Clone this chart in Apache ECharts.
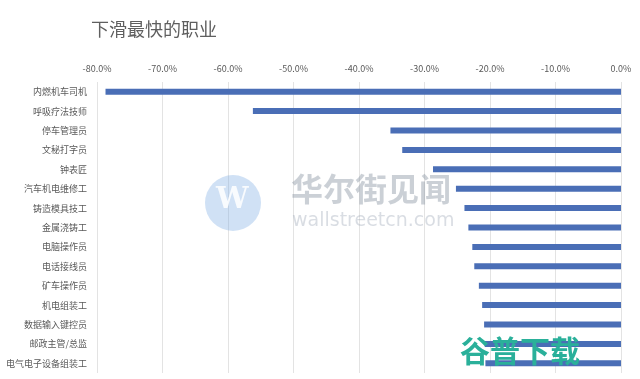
<!DOCTYPE html>
<html><head><meta charset="utf-8">
<script src="https://cdn.jsdelivr.net/npm/echarts@6/dist/echarts.min.js"></script>
<style>html,body{margin:0;padding:0;background:#fff}#c{width:640px;height:379px}</style>
</head><body><div id="c"></div>
<script>
const categories = ["内燃机车司机","呼吸疗法技师","停车管理员","文秘打字员","钟表匠","汽车机电维修工","铸造模具技工","金属浇铸工","电脑操作员","电话接线员","矿车操作员","机电组装工","数据输入键控员","邮政主管/总监","电气电子设备组装工"];
const values = [-0.787,-0.562,-0.352,-0.334,-0.287,-0.252,-0.239,-0.233,-0.227,-0.224,-0.217,-0.212,-0.209,-0.208,-0.207];
const titleText = "下滑最快的职业";
const font = "'Noto Sans CJK SC', sans-serif";
const chart = echarts.init(document.getElementById('c'), null, {renderer:'canvas'});
chart.setOption({
  animation:false,
  backgroundColor:'#fff',
  title:{text:titleText,left:86,top:15,textStyle:{fontFamily:font,fontSize:18,fontWeight:'normal',color:'#5f5f5f'}},
  grid:{left:97,right:19,top:82,bottom:6,containLabel:false},
  xAxis:{type:'value',position:'top',min:-0.8,max:0,interval:0.1,
    axisLine:{show:false},axisTick:{show:false},
    axisLabel:{margin:9,fontFamily:font,fontSize:9,color:'#595959',formatter:v=>(v*100).toFixed(1)+'%'},
    splitLine:{lineStyle:{color:'#e3e3e3',width:1}}},
  yAxis:{type:'category',data:categories,inverse:true,
    axisLine:{show:false},axisTick:{show:false},
    axisLabel:{margin:10,fontFamily:font,fontSize:9,color:'#595959'}},
  series:[{type:'bar',data:values,barWidth:6,itemStyle:{color:'#4a6eb6'}}],
  graphic:[
    {type:'circle',shape:{cx:233,cy:203,r:28},style:{fill:'rgba(120,170,225,0.35)'},z:10},
    {type:'text',left:216,top:186,style:{text:'W',fontFamily:'DejaVu Serif',fontSize:29,fontWeight:'bold',fill:'rgba(255,255,255,0.85)'},z:11},
    {type:'text',left:291,top:173,style:{text:'华尔街见闻',fontFamily:"'Noto Sans CJK SC'",fontSize:32,fontWeight:'bold',fill:'rgba(140,150,165,0.45)'},z:10},
    {type:'text',left:292,top:212,style:{text:'wallstreetcn.com',fontFamily:'DejaVu Sans',fontSize:19,fill:'rgba(160,170,185,0.4)'},z:10},
    {type:'text',left:460,top:336,style:{text:'谷普下载',fontFamily:"'Noto Sans CJK SC'",fontSize:30,fontWeight:'bold',fill:'#2ab09a'},z:12}
  ]
});
</script></body></html>
